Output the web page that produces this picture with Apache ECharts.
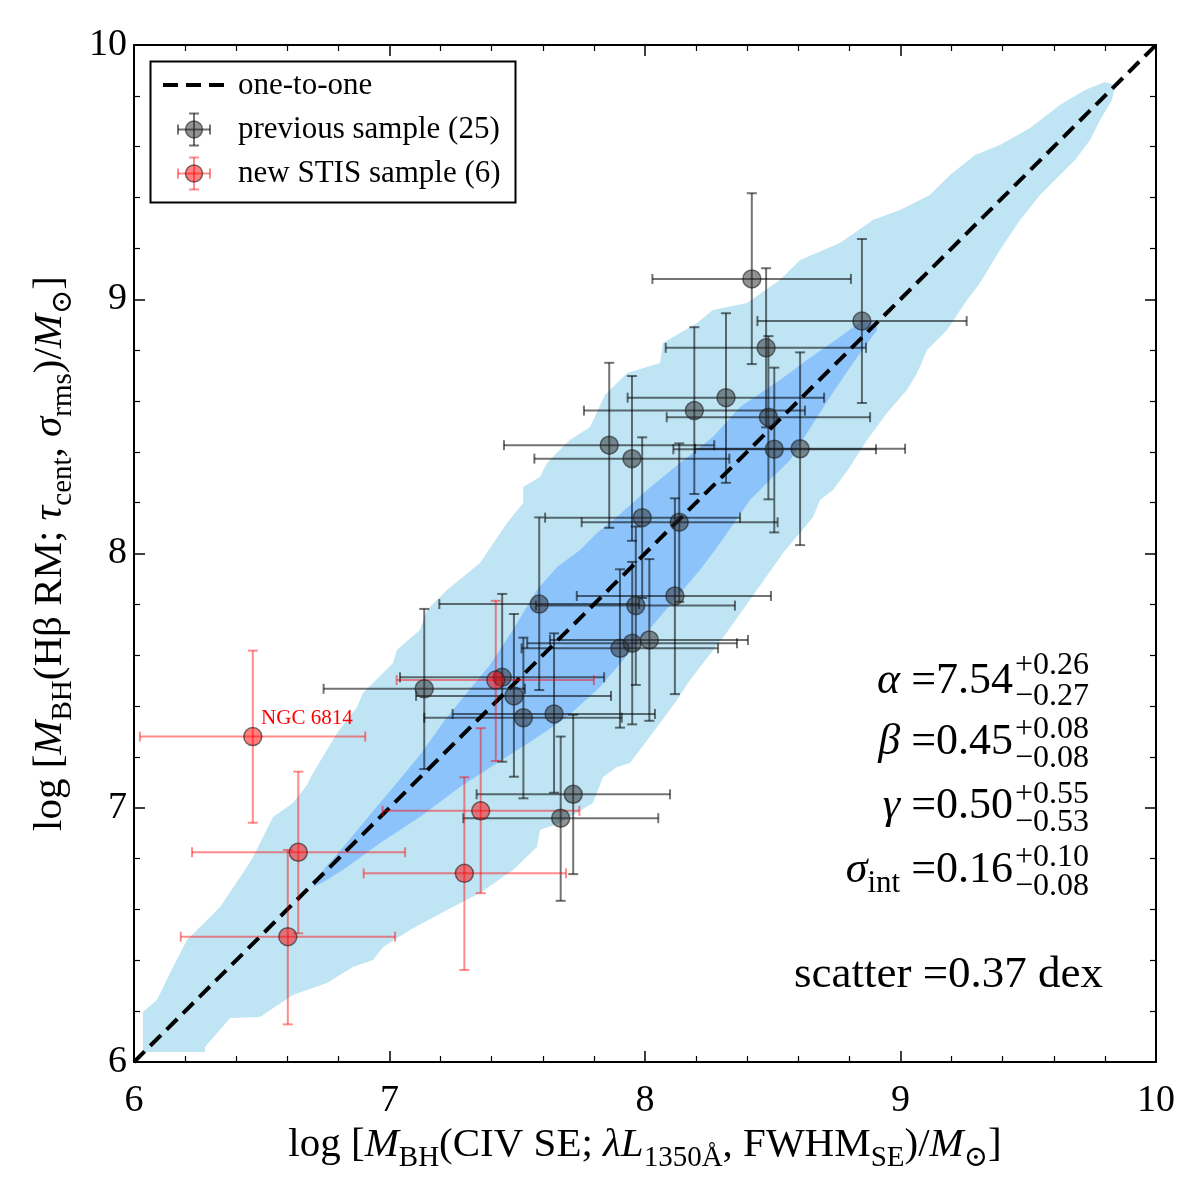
<!DOCTYPE html>
<html><head><meta charset="utf-8">
<script src="https://cdn.jsdelivr.net/npm/echarts@6/dist/echarts.min.js"></script>
<style>html,body{margin:0;padding:0;background:#fff}#c{width:1200px;height:1200px}</style>
</head><body><div id="c"></div>
<script>
// ---- data ----
const prevX   = [8.418,8.849,8.474,8.317,8.193,7.860,7.949,8.483,8.506,8.607,7.989,8.134,7.586,7.964,8.117,7.902,7.950,8.017,7.136,7.441,7.487,7.524,7.644,7.719,7.670];
const prevY   = [9.080,8.914,8.809,8.613,8.562,8.426,8.373,8.536,8.410,8.412,8.141,8.123,7.801,7.795,7.833,7.627,7.647,7.660,7.468,7.513,7.440,7.354,7.369,7.053,6.959];
const prevXlo = [8.029,8.440,8.081,7.932,7.761,7.448,7.567,8.085,8.111,8.196,7.609,7.752,7.195,7.573,7.733,7.517,7.539,7.628,6.742,7.041,7.104,7.136,7.247,7.341,7.289];
const prevXhi = [8.806,9.259,8.865,8.701,8.626,8.271,8.330,8.881,8.904,9.018,8.372,8.519,7.977,8.352,8.493,8.286,8.360,8.403,7.530,7.840,7.867,7.909,8.039,8.098,8.052];
const prevYlo = [8.745,8.592,8.496,8.278,8.234,8.101,8.050,8.213,8.083,8.033,7.825,7.810,7.463,7.483,7.447,7.315,7.328,7.342,7.152,7.181,7.122,7.037,7.059,6.739,6.634];
const prevYhi = [9.417,9.237,9.122,8.945,8.890,8.750,8.698,8.855,8.731,8.791,8.457,8.433,8.142,8.106,8.217,7.938,7.967,7.978,7.782,7.841,7.762,7.669,7.686,7.366,7.280];

const newNames = ['NGC 6814','','','','',''];
const newX   = [6.465,7.416,6.643,7.357,7.293,6.602];
const newY   = [7.280,7.502,6.825,6.988,6.742,6.493];
const newXlo = [6.023,7.028,6.227,6.973,6.899,6.183];
const newXhi = [6.905,7.800,7.061,7.743,7.691,7.022];
const newYlo = [6.941,7.184,6.506,6.664,6.362,6.148];
const newYhi = [7.618,7.814,7.142,7.313,7.120,6.834];

const oneToOne = [[6,6],[10,10]];

// 2-sigma (outer) and 1-sigma (inner) regions, [x, y] vertices
const outerRegion = [[6.035,6.039],[6.035,6.197],[6.090,6.244],[6.141,6.350],[6.207,6.480],[6.337,6.610],[6.442,6.767],[6.466,6.806],[6.544,6.964],[6.622,7.019],[6.677,7.089],[6.701,7.137],[6.755,7.227],[6.795,7.294],[6.873,7.396],[6.896,7.451],[7.014,7.569],[7.029,7.620],[7.119,7.699],[7.147,7.778],[7.225,7.856],[7.354,7.963],[7.460,8.120],[7.523,8.199],[7.523,8.262],[7.589,8.301],[7.616,8.356],[7.706,8.446],[7.785,8.498],[7.843,8.623],[7.930,8.710],[8.059,8.749],[8.070,8.828],[8.204,8.907],[8.266,8.958],[8.399,8.985],[8.528,9.076],[8.607,9.154],[8.763,9.221],[8.892,9.312],[8.998,9.351],[9.115,9.410],[9.194,9.489],[9.292,9.567],[9.389,9.607],[9.507,9.674],[9.624,9.764],[9.722,9.823],[9.800,9.854],[9.840,9.843],
 [9.828,9.784],[9.781,9.705],[9.742,9.626],[9.683,9.548],[9.624,9.489],[9.546,9.410],[9.468,9.312],[9.389,9.194],[9.311,9.064],[9.260,8.997],[9.182,8.879],[9.104,8.800],[9.065,8.710],[9.025,8.643],[8.947,8.553],[8.869,8.446],[8.802,8.340],[8.736,8.250],[8.685,8.210],[8.658,8.144],[8.540,8.002],[8.438,7.856],[8.313,7.679],[8.176,7.502],[8.125,7.424],[8.059,7.333],[7.941,7.176],[7.890,7.160],[7.836,7.121],[7.796,7.019],[7.667,6.940],[7.589,6.912],[7.577,6.846],[7.483,6.755],[7.354,6.665],[7.225,6.598],[7.080,6.519],[6.975,6.452],[6.935,6.401],[6.857,6.374],[6.755,6.311],[6.622,6.264],[6.493,6.177],[6.376,6.173],[6.278,6.059],[6.278,6.039]];
const innerRegion = [[6.701,6.688],[6.748,6.763],[6.826,6.853],[6.924,6.972],[7.022,7.089],[7.119,7.207],[7.217,7.345],[7.296,7.443],[7.393,7.561],[7.483,7.699],[7.577,7.856],[7.656,7.947],[7.746,8.014],[7.812,8.081],[7.890,8.144],[8.008,8.250],[8.137,8.356],[8.266,8.458],[8.372,8.576],[8.528,8.682],[8.634,8.761],[8.763,8.852],[8.853,8.918],[8.908,8.911],[8.908,8.879],[8.814,8.749],[8.724,8.616],[8.634,8.474],[8.568,8.368],[8.489,8.289],[8.411,8.210],[8.294,8.041],[8.215,7.935],[7.824,7.475],[7.695,7.357],[7.562,7.266],[7.421,7.176],[7.276,7.082],[7.119,6.964],[6.963,6.861],[6.834,6.767],[6.755,6.716]];

const xTicks = [6,7,8,9,10];
const yTicks = [6,7,8,9,10];

// ---- helpers ----
const SERIF = '"Liberation Serif","DejaVu Serif",serif';
function zipErr(x,y,xl,xh,yl,yh){return x.map((v,i)=>[v,y[i],xl[i],xh[i],yl[i],yh[i]]);}
function errRender(color){
  return function(params, api){
    const x=api.value(0), y=api.value(1), xl=api.value(2), xh=api.value(3), yl=api.value(4), yh=api.value(5);
    const pL=api.coord([xl,y]), pR=api.coord([xh,y]), pB=api.coord([x,yl]), pT=api.coord([x,yh]);
    const c=5, st={stroke:color, lineWidth:2, fill:null};
    const L=(a,b,d,e)=>({type:'line', shape:{x1:a,y1:b,x2:d,y2:e}, style:st});
    return {type:'group', children:[
      L(pL[0],pL[1],pR[0],pR[1]), L(pL[0],pL[1]-c,pL[0],pL[1]+c), L(pR[0],pR[1]-c,pR[0],pR[1]+c),
      L(pB[0],pB[1],pT[0],pT[1]), L(pB[0]-c,pB[1],pB[0]+c,pB[1]), L(pT[0]-c,pT[1],pT[0]+c,pT[1])
    ]};
  };
}
function regionRender(poly, fill){
  return function(params, api){
    if(params.dataIndex!==0) return null;
    return {type:'polygon', shape:{points: poly.map(p=>api.coord(p))}, style:{fill:fill}};
  };
}

const GRAYBAR='rgba(0,0,0,0.55)', REDBAR='rgba(255,0,0,0.45)';
const GRAYFILL='rgba(40,40,40,0.5)', REDFILL='rgba(255,0,0,0.5)', EDGE='rgba(30,30,30,0.6)';

const axisCommon = {
  type:'value', min:6, max:10, interval:1,
  axisLine:{show:true, onZero:false, lineStyle:{color:'#000', width:2}},
  axisTick:{show:true, inside:true, length:11, lineStyle:{color:'#000', width:1.5}},
  minorTick:{show:true, splitNumber:5, length:6, lineStyle:{color:'#000', width:1.2}},
  splitLine:{show:false}
};
const nameRich = {
  n:{fontFamily:SERIF, fontSize:41, color:'#000'},
  i:{fontFamily:SERIF, fontSize:41, fontStyle:'italic', color:'#000'},
  s:{fontFamily:SERIF, fontSize:29, color:'#000', padding:[26,0,0,0]}
};

const chart = echarts.init(document.getElementById('c'), null, {renderer:'canvas'});

const prevData = zipErr(prevX,prevY,prevXlo,prevXhi,prevYlo,prevYhi);
const newData  = zipErr(newX,newY,newXlo,newXhi,newYlo,newYhi);

function legendGraphic(){
  const g=[];
  g.push({type:'rect', shape:{x:150.5,y:61.5,width:365,height:141}, style:{fill:'#fff', stroke:'#000', lineWidth:2}, z:100});
  g.push({type:'line', shape:{x1:163,y1:85,x2:225,y2:85}, style:{stroke:'#000', lineWidth:4, lineDash:[15,8]}, z:101});
  const mk=(cy,bar,fill)=>{
    const st={stroke:bar, lineWidth:2};
    g.push({type:'line', shape:{x1:178,y1:cy,x2:210,y2:cy}, style:st, z:101});
    g.push({type:'line', shape:{x1:178,y1:cy-5,x2:178,y2:cy+5}, style:st, z:101});
    g.push({type:'line', shape:{x1:210,y1:cy-5,x2:210,y2:cy+5}, style:st, z:101});
    g.push({type:'line', shape:{x1:194,y1:cy-16,x2:194,y2:cy+16}, style:st, z:101});
    g.push({type:'line', shape:{x1:189,y1:cy-16,x2:199,y2:cy-16}, style:st, z:101});
    g.push({type:'line', shape:{x1:189,y1:cy+16,x2:199,y2:cy+16}, style:st, z:101});
    g.push({type:'circle', shape:{cx:194,cy:cy,r:8.5}, style:{fill:fill, stroke:EDGE, lineWidth:1.5}, z:102});
  };
  mk(129.5,GRAYBAR,GRAYFILL);
  mk(173.5,REDBAR,REDFILL);
  const tx=(t,y)=>g.push({type:'text', x:238, y:y, style:{text:t, font:'31px '+SERIF, fill:'#000', textVerticalAlign:'middle'}, z:101});
  tx('one-to-one',86); tx('previous sample (25)',130); tx('new STIS sample (6)',174);
  return g;
}
function paramGraphic(){
  const g=[];
  const rich={
    n:{fontFamily:SERIF, fontSize:44, color:'#000'},
    i:{fontFamily:SERIF, fontSize:44, fontStyle:'italic', color:'#000'},
    s:{fontFamily:SERIF, fontSize:31, color:'#000', padding:[28,0,0,0]}
  };
  const row=(txt,cy,sup,sub,sy1,sy2)=>{
    g.push({type:'text', x:1013, y:cy, style:{text:txt, rich:rich, textAlign:'right', textVerticalAlign:'middle'}});
    g.push({type:'text', x:1015, y:sy1, style:{text:sup, font:'32px '+SERIF, fill:'#000', textVerticalAlign:'middle'}});
    g.push({type:'text', x:1015, y:sy2, style:{text:sub, font:'32px '+SERIF, fill:'#000', textVerticalAlign:'middle'}});
  };
  row('{i|α}{n| =7.54}',681,'+0.26','\u22120.27',666,697);
  row('{i|β}{n| =0.45}',742,'+0.08','\u22120.08',730,759);
  row('{i|γ}{n| =0.50}',806,'+0.55','\u22120.53',795,823);
  row('{i|σ}{s|int}{n| =0.16}',870,'+0.10','\u22120.08',858,887);
  g.push({type:'text', x:1103, y:975, style:{text:'scatter =0.37 dex', font:'45px '+SERIF, fill:'#000', textAlign:'right', textVerticalAlign:'middle'}});
  return g;
}

chart.setOption({
  backgroundColor:'#fff',
  animation:false,
  grid:{left:134, right:44, top:45, bottom:138, containLabel:false},
  xAxis:[
    Object.assign({}, axisCommon, {position:'bottom',
      name:'{n|log [}{i|M}{s|BH}{n|(CIV SE; }{i|λL}{s|1350Å}{n|, FWHM}{s|SE}{n|)/}{i|M}{s|⊙}{n|]}',
      nameLocation:'middle', nameGap:50, nameTextStyle:{rich:nameRich},
      axisLabel:{show:true, margin:20, fontFamily:SERIF, fontSize:38, color:'#000', formatter:v=>xTicks.includes(v)?String(v):''}}),
    Object.assign({}, axisCommon, {position:'top', axisLabel:{show:false}})
  ],
  yAxis:[
    Object.assign({}, axisCommon, {position:'left',
      name:'{n|log [}{i|M}{s|BH}{n|(Hβ RM; }{i|τ}{s|cent}{n|, }{i|σ}{s|rms}{n|)/}{i|M}{s|⊙}{n|]}',
      nameLocation:'middle', nameGap:56, nameRotate:90, nameTextStyle:{rich:nameRich},
      axisLabel:{show:true, margin:7, fontFamily:SERIF, fontSize:38, color:'#000', formatter:v=>yTicks.includes(v)?String(v):''}}),
    Object.assign({}, axisCommon, {position:'right', axisLabel:{show:false}})
  ],
  graphic: legendGraphic().concat(paramGraphic()),
  series:[
    {type:'custom', name:'outer', renderItem:regionRender(outerRegion,'#bfe4f3'), data:outerRegion, z:1, silent:true, clip:true},
    {type:'custom', name:'inner', renderItem:regionRender(innerRegion,'#8cc3fa'), data:innerRegion, z:2, silent:true, clip:true},
    {type:'line', name:'one-to-one', data:oneToOne, symbol:'none', z:3, lineStyle:{color:'#000', width:4, type:[15,8]}, silent:true},
    {type:'custom', name:'prevErr', renderItem:errRender(GRAYBAR), data:prevData, z:4, encode:{x:0,y:1}},
    {type:'custom', name:'newErr', renderItem:errRender(REDBAR), data:newData, z:4, encode:{x:0,y:1}},
    {type:'scatter', name:'previous sample (25)', data:prevX.map((v,i)=>[v,prevY[i]]), symbolSize:18, z:5,
      itemStyle:{color:GRAYFILL, borderColor:EDGE, borderWidth:1.5, opacity:1}},
    {type:'scatter', name:'new STIS sample (6)', z:6, symbolSize:18,
      data:newX.map((v,i)=>({value:[v,newY[i]], label:{show:!!newNames[i], formatter:newNames[i], position:[18,-8], align:'left', verticalAlign:'middle', color:'#ff0000', fontSize:21, fontFamily:SERIF}})),
      itemStyle:{color:REDFILL, borderColor:EDGE, borderWidth:1.5, opacity:1}}
  ]
});
</script></body></html>
